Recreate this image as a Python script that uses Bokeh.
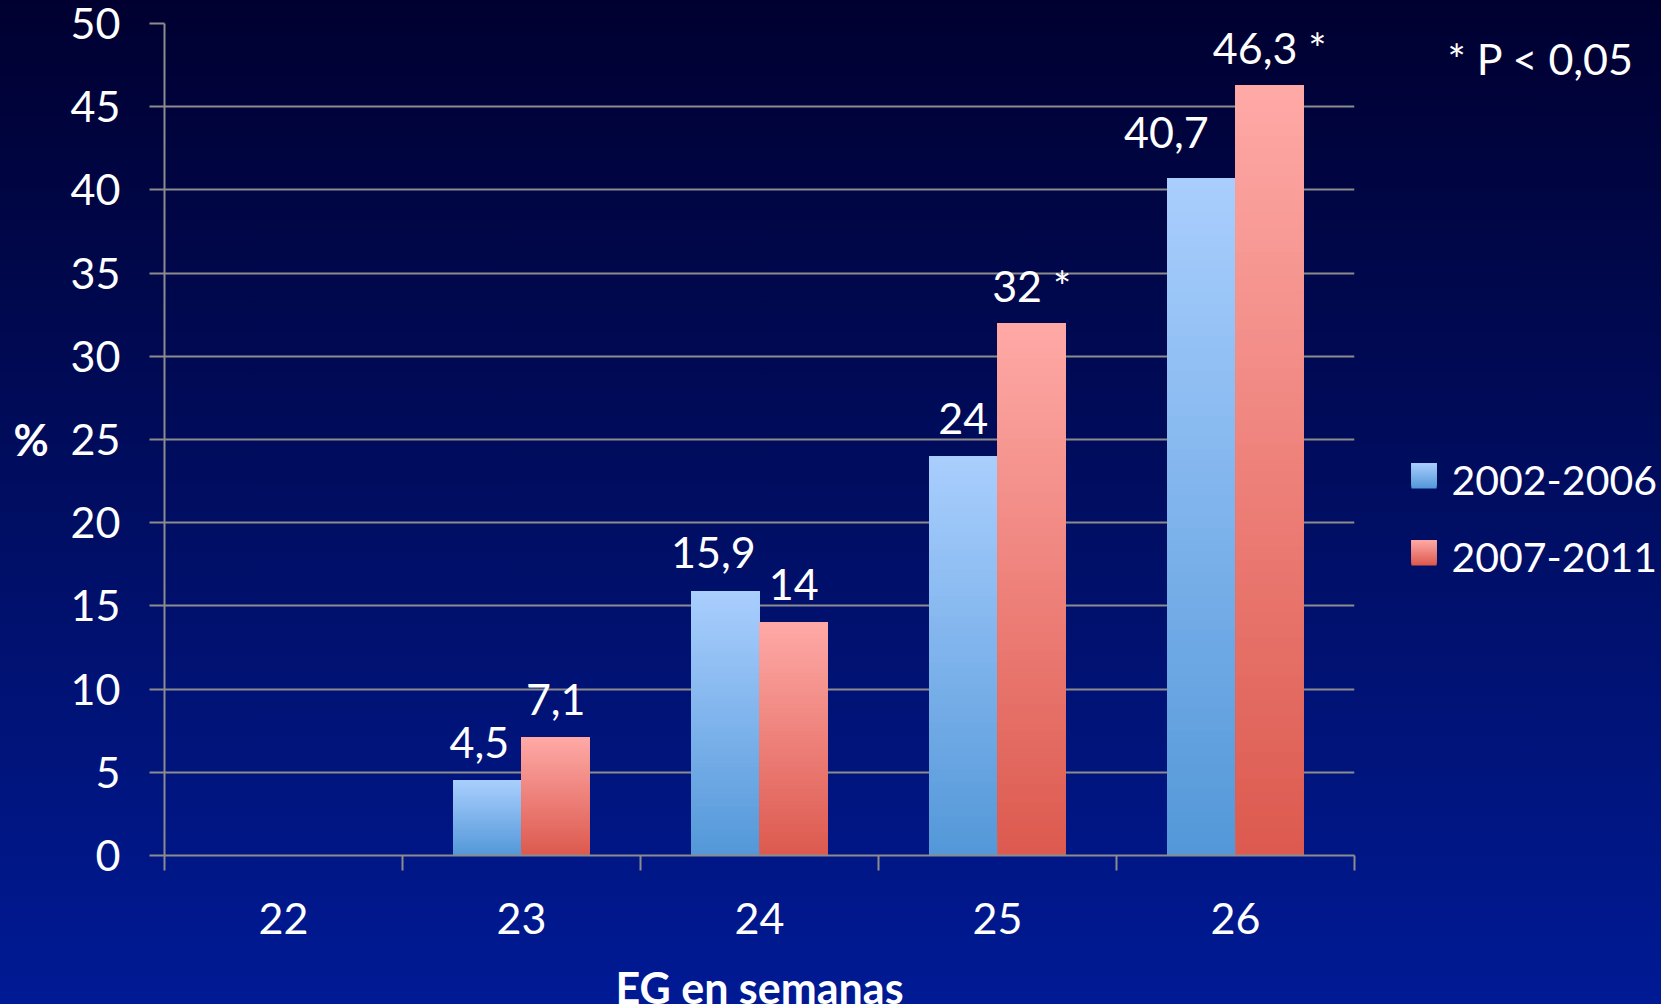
import numpy as np
from bokeh.plotting import figure
from bokeh.layouts import row, column
from bokeh.models import Range1d, FixedTicker, ColumnDataSource
from bokeh.core.properties import value
from bokeh.embed import file_html
from bokeh.resources import INLINE

# ---- data -------------------------------------------------------------
weeks = ["22", "23", "24", "25", "26"]
series_names = ["2002-2006", "2007-2011"]
pct_2002_2006 = [None, 4.5, 15.9, 24, 40.7]
pct_2007_2011 = [None, 7.1, 14, 32, 46.3]
significant_2002_2006 = [False, False, False, False, False]
significant_2007_2011 = [False, False, False, True, True]
y_ticks = [0, 5, 10, 15, 20, 25, 30, 35, 40, 45, 50]
note_text = "* P < 0,05"
x_title = "EG en semanas"
y_title = "%"

# ---- style ------------------------------------------------------------
FONT = "Lato"
FS = "43px"
FS_LEGEND = "41px"
GRID = "#8c8c8c"
BAR_W = 0.2875
BLUE = ("#5498d9", "#aacffe")   # bottom, top
RED = ("#dc5a4f", "#ffaaa7")
BG = "linear-gradient(to bottom, #000030 0%, #000c5c 45%, #001a95 100%)"
# pixel nudges of the value labels (x, y) so neighbouring labels do not collide
NUDGE_2002_2006 = [(0, 0), (-8, 0), (-12, 0), (0, 0), (-35, -8)]
NUDGE_2007_2011 = [(0, 0), (0, 0), (0, 0), (0, 0), (0, 0)]
LABEL_LIFT = -38

W, H = 1661, 1004
MAIN_W = 1380
SIDE_W = W - MAIN_W
STRIP_H = 44                  # band under the chart holding the x title
TOP_H = H - STRIP_H
BORDER_LEFT, FRAME_RIGHT = 164, 1354
BORDER_TOP, FRAME_BOTTOM = 23, 855


def mix(c0, c1, t):
    a = [int(c0[i:i + 2], 16) for i in (1, 3, 5)]
    b = [int(c1[i:i + 2], 16) for i in (1, 3, 5)]
    return "#%02x%02x%02x" % tuple(round(a[k] + (b[k] - a[k]) * t) for k in range(3))


def gradient_rects(fig, lefts, rights, bottoms, tops, colors, n=60):
    """Fill each rectangle with a vertical gradient from colors[0] (bottom) to colors[1] (top)."""
    g = dict(left=[], right=[], bottom=[], top=[], color=[])
    for l, r, b, t in zip(lefts, rights, bottoms, tops):
        for k in range(n):
            f = k / n
            g["left"].append(l)
            g["right"].append(r)
            g["bottom"].append(b + (t - b) * f)
            g["top"].append(t)
            g["color"].append(mix(colors[0], colors[1], f))
    fig.quad(left="left", right="right", bottom="bottom", top="top",
             fill_color="color", line_color=None, source=ColumnDataSource(g))


def fmt(v, sig):
    s = f"{v:g}".replace(".", ",")
    return s + " *" if sig else s


def transparent(fig):
    fig.border_fill_color = None
    fig.background_fill_color = None
    fig.outline_line_color = None


n_cat = len(weeks)
centers = [i + 0.5 for i in range(n_cat)]

# ---- main chart -------------------------------------------------------
p = figure(width=MAIN_W, height=TOP_H, output_backend="svg", toolbar_location=None,
           x_range=Range1d(0, n_cat), y_range=Range1d(0, 50),
           min_border_left=BORDER_LEFT, min_border_right=MAIN_W - FRAME_RIGHT,
           min_border_top=BORDER_TOP, min_border_bottom=TOP_H - FRAME_BOTTOM)
transparent(p)

xa = p.xaxis[0]
xa.ticker = FixedTicker(ticks=centers, minor_ticks=list(range(n_cat + 1)))
xa.major_label_overrides = {c: w for c, w in zip(centers, weeks)}
xa.major_tick_out = 0
xa.major_tick_in = 0
xa.minor_tick_out = 15
xa.minor_tick_in = 0
xa.minor_tick_line_color = GRID
xa.minor_tick_line_width = 2
xa.axis_line_color = GRID
xa.axis_line_width = 2
xa.major_label_text_font = FONT
xa.major_label_text_font_size = FS
xa.major_label_text_color = "white"
xa.major_label_standoff = 32

ya = p.yaxis[0]
ya.ticker = FixedTicker(ticks=y_ticks)
ya.major_tick_out = 15
ya.major_tick_in = 0
ya.minor_tick_line_color = None
ya.major_tick_line_color = GRID
ya.major_tick_line_width = 2
ya.axis_line_color = GRID
ya.axis_line_width = 2
ya.major_label_text_font = FONT
ya.major_label_text_font_size = FS
ya.major_label_text_color = "white"
ya.major_label_standoff = 29
ya.axis_label = y_title
ya.axis_label_orientation = "horizontal"
ya.axis_label_text_font = FONT
ya.axis_label_text_font_size = FS
ya.axis_label_text_font_style = "bold"
ya.axis_label_text_color = "white"
ya.axis_label_standoff = 19

p.xgrid.visible = False
p.ygrid.ticker = FixedTicker(ticks=y_ticks)
p.ygrid.grid_line_color = GRID
p.ygrid.grid_line_width = 2

series = [
    (pct_2002_2006, significant_2002_2006, -BAR_W / 2, BLUE, NUDGE_2002_2006),
    (pct_2007_2011, significant_2007_2011, BAR_W / 2, RED, NUDGE_2007_2011),
]
for vals, sig, shift, colors, nudge in series:
    xs = [c + shift for c in centers]
    tops = [np.nan if v is None else v for v in vals]
    p.vbar(x=xs, top=tops, width=BAR_W, bottom=0,
           fill_color=mix(colors[0], colors[1], 0.5), line_color=None)

    present = [(x, v) for x, v in zip(xs, vals) if v is not None]
    gradient_rects(p,
                   [x - BAR_W / 2 for x, _ in present],
                   [x + BAR_W / 2 for x, _ in present],
                   [0] * len(present),
                   [v for _, v in present],
                   colors)

    lab = dict(x=[], y=[], text=[], dx=[], dy=[])
    for x, v, s, (dx, dy) in zip(xs, vals, sig, nudge):
        if v is None:
            continue
        lab["x"].append(x)
        lab["y"].append(v)
        lab["text"].append(fmt(v, s))
        lab["dx"].append(dx)
        lab["dy"].append(LABEL_LIFT + dy)
    p.text(x="x", y="y", text="text", source=ColumnDataSource(lab),
           x_offset="dx", y_offset="dy", text_align="center", text_baseline="alphabetic",
           text_font=value(FONT), text_font_size=FS, text_color="white")

# ---- side panel: significance note and legend ------------------------
# its frame is aligned with the main frame; data units are page pixels
side = figure(width=SIDE_W, height=TOP_H, output_backend="svg", toolbar_location=None,
              x_range=Range1d(0, SIDE_W), y_range=Range1d(FRAME_BOTTOM, BORDER_TOP),
              x_axis_location=None, y_axis_location=None,
              min_border_left=0, min_border_right=0,
              min_border_top=BORDER_TOP, min_border_bottom=TOP_H - FRAME_BOTTOM)
transparent(side)
side.grid.visible = False

side.text(x=[67], y=[58], text=[note_text], text_align="left", text_baseline="alphabetic",
          text_font=value(FONT), text_font_size=FS, text_color="white")

sw_left, sw_size, row_top, row_step = 31, 25, 463, 77
for i, (name, colors) in enumerate(zip(series_names, [BLUE, RED])):
    top = row_top + i * row_step
    gradient_rects(side, [sw_left], [sw_left + sw_size], [top + sw_size], [top], colors, n=25)
    side.text(x=[sw_left + sw_size + 15], y=[top + 17], text=[name],
              text_align="left", text_baseline="alphabetic",
              text_font=value(FONT), text_font_size=FS_LEGEND, text_color="white")

# ---- bottom strip: x-axis title centred under the plot frame ----------
strip = figure(width=W, height=STRIP_H, output_backend="svg", toolbar_location=None,
               x_range=Range1d(0, n_cat), y_range=Range1d(H, TOP_H),
               x_axis_location=None, y_axis_location=None,
               min_border_left=BORDER_LEFT, min_border_right=W - FRAME_RIGHT,
               min_border_top=0, min_border_bottom=0)
transparent(strip)
strip.grid.visible = False
strip.text(x=[n_cat / 2], y=[987], text=[x_title], text_align="center",
           text_baseline="alphabetic", text_font=value(FONT), text_font_size=FS,
           text_font_style="bold", text_color="white")

layout = column(row(p, side, spacing=0), strip, spacing=0)
layout.styles = {"background": BG}
open("out.html", "w").write(file_html(layout, INLINE))
